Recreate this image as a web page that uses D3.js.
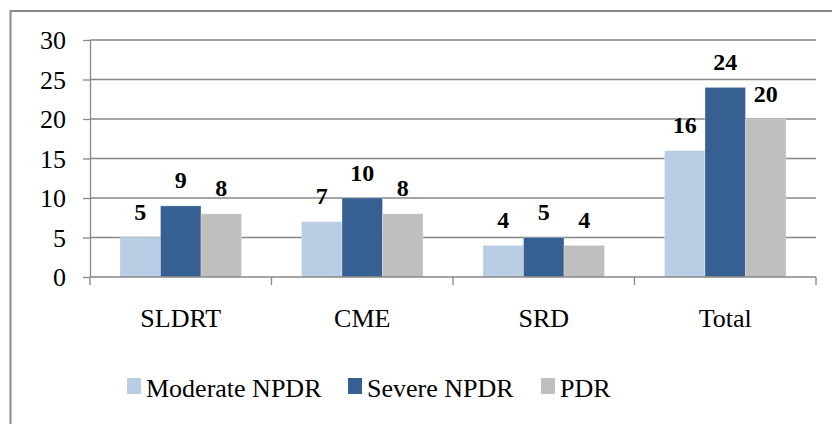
<!DOCTYPE html>
<html>
<head>
<meta charset="utf-8">
<script src="https://cdn.jsdelivr.net/npm/d3@7"></script>
</head>
<body style="margin:0;padding:0;background:#fff">
<svg id="chart" width="832" height="424" style="display:block;font-family:'Times New Roman','Liberation Serif'" font-family="Times New Roman"></svg>
<script>
const categories = ["SLDRT", "CME", "SRD", "Total"];
const seriesNames = ["Moderate NPDR", "Severe NPDR", "PDR"];
const moderateNPDR = [5, 7, 4, 16];
const severeNPDR = [9, 10, 5, 24];
const pdr = [8, 8, 4, 20];
const yTicks = [0, 5, 10, 15, 20, 25, 30];
const colors = ["#B9CDE5", "#376092", "#BFBFBF"];

const seriesValues = [moderateNPDR, severeNPDR, pdr];
const svg = d3.select("#chart");
const FONT = "Times New Roman";

const plotL = 90, plotR = 816, plotT = 40, plotB = 277;
const gridColor = "#878787";

// outer frame (left and top edges visible)
svg.append("path")
  .attr("d", "M10.5,424 L10.5,11 L832,11")
  .attr("fill", "none").attr("stroke", "#8a8a8a").attr("stroke-width", 2);

const y = d3.scaleLinear().domain([0, 30]).range([plotB, plotT]);
const p = 60 / 181.5;
const x0 = d3.scaleBand().domain(categories).range([plotL, plotR])
  .paddingInner(p).paddingOuter(p / 2);
const x1 = d3.scaleBand().domain(seriesNames).range([0, x0.bandwidth()]);

// gridlines
svg.append("g").selectAll("line").data(yTicks.filter(t => t > 0)).join("line")
  .attr("x1", plotL).attr("x2", plotR)
  .attr("y1", d => y(d)).attr("y2", d => y(d))
  .attr("stroke", gridColor).attr("stroke-width", 1.3);

// y axis
const yAxis = d3.axisLeft(y).tickValues(yTicks).tickSize(7).tickPadding(17).tickSizeOuter(0);
const gy = svg.append("g").attr("transform", `translate(${plotL},0)`).call(yAxis);
gy.attr("font-family", null).attr("font-size", null);
gy.select(".domain").attr("stroke", gridColor).attr("stroke-width", 1.3);
gy.selectAll(".tick line").attr("stroke", gridColor).attr("stroke-width", 1.3);
gy.selectAll(".tick text")
  .attr("font-family", FONT).attr("font-size", 26)
  .style("font-family", `"${FONT}"`)
  .attr("fill", "#000").attr("dy", "0.33em");

// bars
const groups = svg.append("g").selectAll("g").data(categories).join("g")
  .attr("transform", d => `translate(${x0(d)},0)`);
groups.selectAll("rect")
  .data((c, i) => seriesNames.map((s, j) => ({ s, j, v: seriesValues[j][i] })))
  .join("rect")
  .attr("x", d => x1(d.s))
  .attr("width", x1.bandwidth())
  .attr("y", d => y(d.v))
  .attr("height", d => y(0) - y(d.v))
  .attr("fill", d => colors[d.j])
  .attr("stroke", "rgba(255,255,255,0.35)").attr("stroke-width", 0.8);

groups.selectAll("text.lbl")
  .data((c, i) => seriesNames.map((s, j) => ({ s, j, v: seriesValues[j][i] })))
  .join("text").attr("class", "lbl")
  .attr("x", d => x1(d.s) + x1.bandwidth() / 2)
  .attr("y", d => y(d.v) - 17.5)
  .attr("text-anchor", "middle")
  .attr("font-family", FONT).style("font-family", `"${FONT}"`)
  .attr("font-size", 24).attr("font-weight", "bold")
  .attr("fill", "#000")
  .text(d => d.v);

// x axis
const xb = d3.scaleLinear().domain([0, categories.length]).range([plotL, plotR]);
svg.append("line").attr("x1", plotL).attr("x2", plotR).attr("y1", plotB).attr("y2", plotB)
  .attr("stroke", gridColor).attr("stroke-width", 1.3);
svg.append("g").selectAll("line").data(d3.range(categories.length + 1)).join("line")
  .attr("x1", d => xb(d)).attr("x2", d => xb(d))
  .attr("y1", plotB).attr("y2", plotB + 8)
  .attr("stroke", gridColor).attr("stroke-width", 1.3);
svg.append("g").selectAll("text").data(categories).join("text")
  .attr("x", d => x0(d) + x0.bandwidth() / 2)
  .attr("y", 327)
  .attr("text-anchor", "middle")
  .attr("font-family", FONT).style("font-family", `"${FONT}"`)
  .attr("font-size", 26)
  .attr("fill", "#000")
  .text(d => d);

// legend
const legendX = [127, 348, 541];
const lg = svg.append("g").selectAll("g").data(seriesNames).join("g")
  .attr("transform", (d, i) => `translate(${legendX[i]},0)`);
lg.append("rect").attr("x", 0).attr("y", 378).attr("width", 14).attr("height", 16)
  .attr("fill", (d, i) => colors[i]);
lg.append("text").attr("x", 19).attr("y", 397)
  .attr("font-family", FONT).style("font-family", `"${FONT}"`)
  .attr("font-size", 26)
  .attr("fill", "#000")
  .text(d => d);
</script>
</body>
</html>
